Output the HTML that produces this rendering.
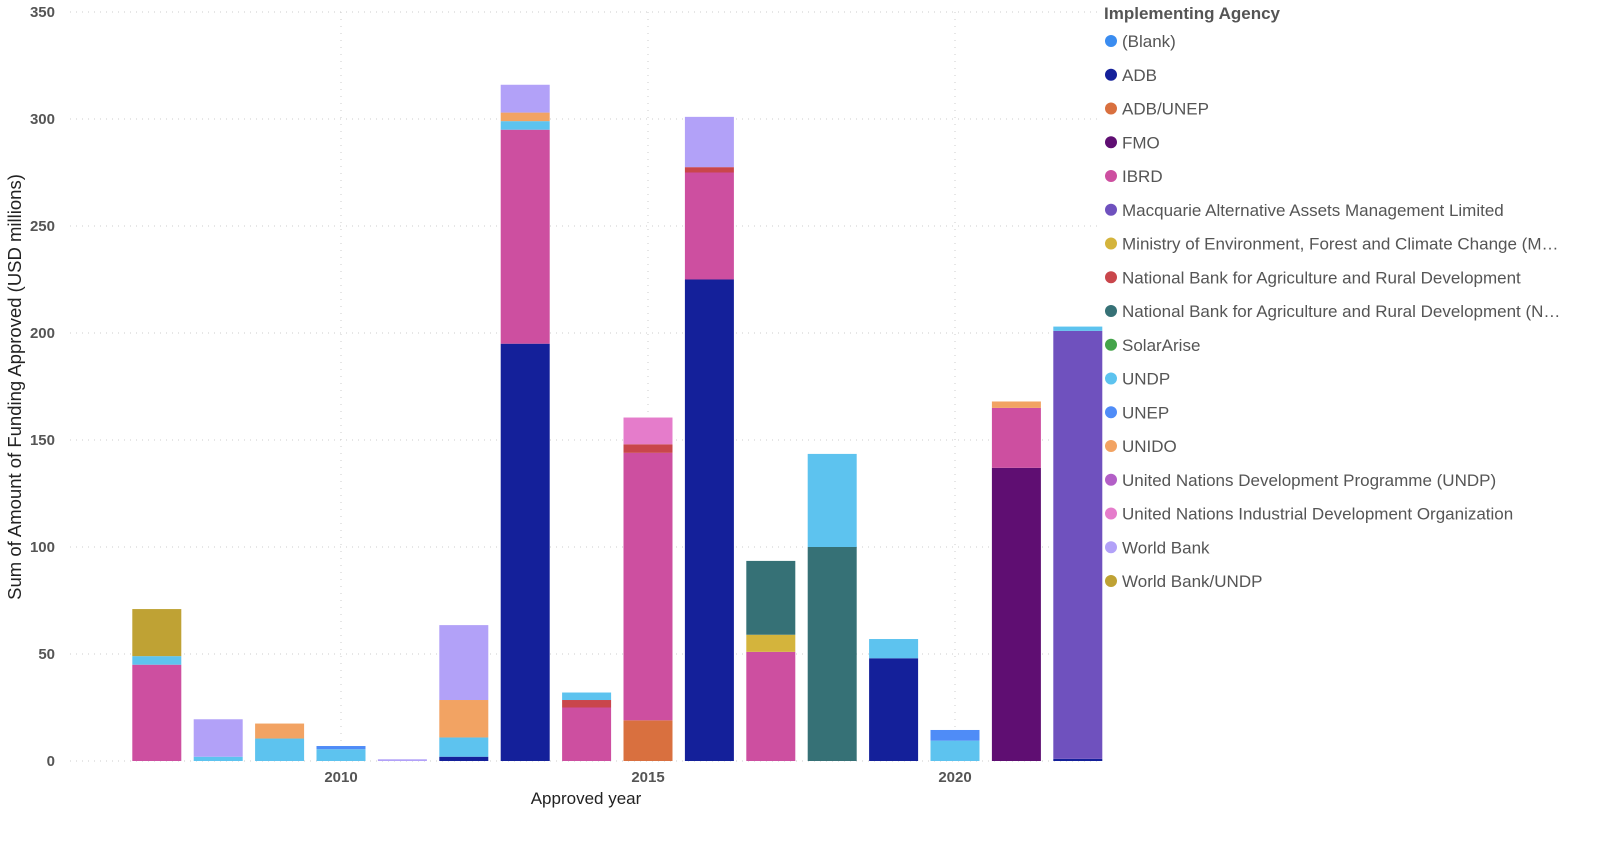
<!DOCTYPE html>
<html><head><meta charset="utf-8"><style>
body{margin:0;background:#fff;font-family:"Liberation Sans",sans-serif}
svg text{font-family:"Liberation Sans",sans-serif}
</style></head><body>
<svg id="chart" width="1600" height="843"></svg>
<script>
const years=[2007,2008,2009,2010,2011,2012,2013,2014,2015,2016,2017,2018,2019,2020,2021,2022];
const agencies=["(Blank)","ADB","ADB/UNEP","FMO","IBRD","Macquarie Alternative Assets Management Limited","Ministry of Environment, Forest and Climate Change (M…","National Bank for Agriculture and Rural Development","National Bank for Agriculture and Rural Development (N…","SolarArise","UNDP","UNEP","UNIDO","United Nations Development Programme (UNDP)","United Nations Industrial Development Organization","World Bank","World Bank/UNDP"];
const colors=["#3a8cf0","#14209a","#d9703f","#5f0e72","#cd4fa0","#6f51be","#d4b43c","#c9464b","#367176","#44a44a","#5dc3ef","#4f8cf7","#f2a363","#b35fc7","#e57ccb","#b2a1f8","#bfa234"];
const vADB      =[0,0,0,0,0,2,195,0,0,225,0,0,48,0,0,1];
const vADBUNEP  =[0,0,0,0,0,0,0,0,19,0,0,0,0,0,0,0];
const vFMO      =[0,0,0,0,0,0,0,0,0,0,0,0,0,0,137,0];
const vIBRD     =[45,0,0,0,0,0,100,25,125,50,51,0,0,0,28,0];
const vMacq     =[0,0,0,0,0,0,0,0,0,0,0,0,0,0,0,200];
const vMoEF     =[0,0,0,0,0,0,0,0,0,0,8,0,0,0,0,0];
const vNABARD   =[0,0,0,0,0,0,0,3.5,4,2.5,0,0,0,0,0,0];
const vNABARDN  =[0,0,0,0,0,0,0,0,0,0,34.5,100,0,0,0,0];
const vUNDP     =[4,2,10.5,5.5,0,9,4,3.5,0,0,0,43.5,9,9.5,0,2];
const vUNEP     =[0,0,0,1.5,0,0,0,0,0,0,0,0,0,5,0,0];
const vUNIDO    =[0,0,7,0,0,17.5,4,0,0,0,0,0,0,0,3,0];
const vUNIDOorg =[0,0,0,0,0,0,0,0,12.5,0,0,0,0,0,0,0];
const vWB       =[0,17.5,0,0,0.8,35,13,0,0,23.5,0,0,0,0,0,0];
const vWBUNDP   =[22,0,0,0,0,0,0,0,0,0,0,0,0,0,0,0];
const zero=years.map(()=>0);
const series=[zero,vADB,vADBUNEP,vFMO,vIBRD,vMacq,vMoEF,vNABARD,vNABARDN,zero,vUNDP,vUNEP,vUNIDO,zero,vUNIDOorg,vWB,vWBUNDP];
const yTicks=[0,50,100,150,200,250,300,350];
const xTickYears=[2010,2015,2020];

const svg=document.getElementById('chart');
const NS='http://www.w3.org/2000/svg';
function mk(t,a,txt){const e=document.createElementNS(NS,t);for(const k in a)e.setAttribute(k,a[k]);if(txt!==undefined)e.textContent=txt;svg.appendChild(e);return e;}
const y0=761,pxPerUnit=(761-12)/350;
const yS=v=>y0-v*pxPerUnit;
const xS=yr=>341+(yr-2010)*61.4;
const bw=49;
yTicks.forEach(t=>{
 const l=mk('line',{x1:70,x2:1100,y1:yS(t),y2:yS(t),stroke:'#ccc','stroke-dasharray':'1,5'});
 
 const tx=mk('text',{x:55,y:yS(t)+5,'text-anchor':'end','font-size':15,'font-weight':'bold',fill:'#555'},t);
 
});
xTickYears.forEach(yr=>{
 const l=mk('line',{x1:xS(yr),x2:xS(yr),y1:12,y2:761,stroke:'#ccc','stroke-dasharray':'1,6'});
 
 const tx=mk('text',{x:xS(yr),y:782,'text-anchor':'middle','font-size':15,'font-weight':'bold',fill:'#555'},yr);
 
});
years.forEach((yr,i)=>{
 let acc=0;
 series.forEach((s,k)=>{
  const v=s[i]; if(!v)return;
  const r=mk('rect',{x:xS(yr)-bw/2,y:yS(acc+v),width:bw,height:v*pxPerUnit,fill:colors[k]});
  
  
  acc+=v;
 });
});
const xt=mk('text',{x:586,y:804,'text-anchor':'middle','font-size':17,fill:'#222'},'Approved year');

const yt=mk('text',{x:0,y:0,transform:'translate(21,387) rotate(-90)','text-anchor':'middle','font-size':18.5,fill:'#222'},'Sum of Amount of Funding Approved (USD millions)');

const lt=mk('text',{x:1104,y:19,'font-size':17,'font-weight':'bold',fill:'#555'},'Implementing Agency');

agencies.forEach((a,k)=>{
 const cy=41+k*33.75;
 const c=mk('circle',{cx:1111,cy:cy,r:6,fill:colors[k]});
 
 const t=mk('text',{x:1122,y:cy+6,'font-size':17,fill:'#555'},a);
 
});
</script>
</body></html>
